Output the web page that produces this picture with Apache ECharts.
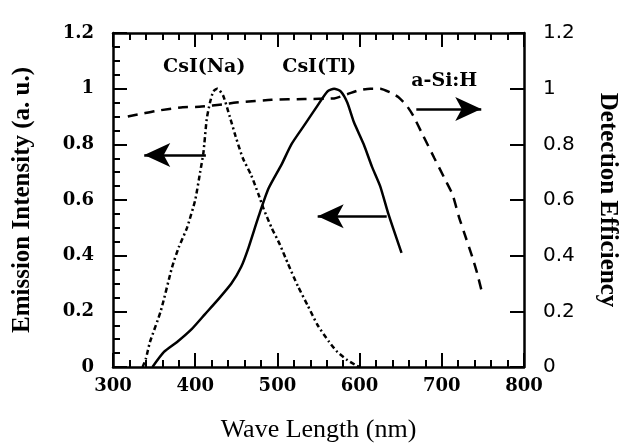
<!DOCTYPE html>
<html>
<head>
<meta charset="utf-8">
<script src="https://cdn.jsdelivr.net/npm/echarts@6/dist/echarts.min.js"></script>
<style>
  html, body { margin: 0; padding: 0; background: #fff; overflow: hidden; }
  #chart { width: 628px; height: 448px; }
</style>
</head>
<body>
<div id="chart"></div>
<script>
// tick values
const waveTicks = [300, 400, 500, 600, 700, 800];
const valueTicks = [0, 0.2, 0.4, 0.6, 0.8, 1, 1.2];

// CsI(Na) emission (dash-dot)
const naWave = [336, 340, 345, 358, 372, 380, 390, 400, 406, 410, 414, 418, 422, 427, 434, 442, 449, 458, 468, 477, 483, 493, 503, 513, 525, 537, 549, 563, 573, 585, 595, 600];
const naEmission = [0, 0.03, 0.09, 0.2, 0.36, 0.43, 0.5, 0.6, 0.7, 0.77, 0.89, 0.95, 0.99, 1.0, 0.975, 0.9, 0.83, 0.75, 0.69, 0.62, 0.57, 0.5, 0.44, 0.37, 0.29, 0.22, 0.15, 0.09, 0.054, 0.025, 0.007, 0];

// CsI(Tl) emission (solid)
const tlWave = [348, 362, 378, 396, 412, 428, 444, 456, 465, 477, 489, 505, 517, 533, 549, 561, 569, 577, 585, 593, 605, 615, 625, 635, 651];
const tlEmission = [0, 0.054, 0.09, 0.137, 0.19, 0.243, 0.3, 0.36, 0.43, 0.54, 0.64, 0.727, 0.8, 0.87, 0.94, 0.99, 1.0, 0.99, 0.95, 0.88, 0.8, 0.72, 0.65, 0.55, 0.41];

// a-Si:H detection efficiency (dashed)
const siWave = [318, 335, 352, 385, 405, 437, 453, 493, 533, 569, 585, 600, 613, 625, 637, 647, 657, 665, 677, 691, 705, 713, 721, 729, 737, 743, 750];
const siEfficiency = [0.9, 0.91, 0.92, 0.933, 0.935, 0.945, 0.951, 0.96, 0.963, 0.965, 0.98, 0.995, 1.0, 1.0, 0.987, 0.97, 0.94, 0.904, 0.833, 0.75, 0.668, 0.62, 0.538, 0.467, 0.396, 0.337, 0.255];

// arrows [from, to] and curve labels, in data units
const naArrow = [[413, 0.762], [338, 0.762]];
const tlArrow = [[633, 0.542], [549, 0.542]];
const siArrow = [[669, 0.927], [748, 0.927]];
const naLabel = [411, 1.076];
const tlLabel = [551, 1.076];
const siLabel = [703, 1.028];

const zip = (xs, ys) => xs.map((x, i) => [x, ys[i]]);

const chart = echarts.init(document.getElementById('chart'));

const arrowMark = (pts) => ({
  silent: true,
  symbol: ['none', 'arrow'],
  symbolSize: [18, 26],
  label: { show: false },
  lineStyle: { color: '#000', width: 2.5, type: 'solid' },
  data: [[{ coord: pts[0] }, { coord: pts[1] }]]
});

const textMark = (text, pos) => ({
  silent: true,
  symbol: 'circle',
  symbolSize: 0,
  label: {
    show: true,
    position: 'inside',
    formatter: text,
    color: '#000',
    fontFamily: 'DejaVu Serif',
    fontWeight: 'bold',
    fontSize: 19
  },
  data: [{ coord: pos }]
});

const xBase = {
  type: 'value',
  min: waveTicks[0],
  max: waveTicks[waveTicks.length - 1],
  interval: waveTicks[1] - waveTicks[0],
  splitLine: { show: false },
  axisLine: { show: true, onZero: false, lineStyle: { color: '#000', width: 2.5 } },
  axisTick: { show: true, inside: true, length: 14, lineStyle: { color: '#000', width: 2 } },
  minorTick: { show: true, splitNumber: 5, length: 7, lineStyle: { color: '#000', width: 2 } }
};

const yBase = {
  type: 'value',
  min: valueTicks[0],
  max: valueTicks[valueTicks.length - 1],
  interval: valueTicks[1] - valueTicks[0],
  splitLine: { show: false },
  axisLine: { show: true, onZero: false, lineStyle: { color: '#000', width: 2.5 } },
  axisTick: { show: true, inside: true, length: 14, lineStyle: { color: '#000', width: 2 } }
};

const option = {
  animation: false,
  backgroundColor: '#fff',
  grid: { left: 113, right: 99, top: 33, bottom: 76, containLabel: false },
  xAxis: [
    Object.assign({}, xBase, {
      position: 'bottom',
      name: 'Wave Length (nm)',
      nameLocation: 'middle',
      nameGap: 50,
      nameTextStyle: { fontFamily: 'Liberation Serif', fontSize: 26, color: '#000' },
      axisLabel: { margin: 10, color: '#000', fontFamily: 'DejaVu Serif', fontWeight: 'bold', fontSize: 18 }
    }),
    Object.assign({}, xBase, {
      position: 'top',
      axisLabel: { show: false }
    })
  ],
  yAxis: [
    Object.assign({}, yBase, {
      position: 'left',
      name: 'Emission Intensity (a. u.)',
      nameLocation: 'middle',
      nameRotate: 90,
      nameGap: 78,
      nameTextStyle: { fontFamily: 'Liberation Serif', fontWeight: 'bold', fontSize: 25, color: '#000' },
      minorTick: { show: true, splitNumber: 4, length: 7, lineStyle: { color: '#000', width: 2 } },
      axisLabel: { margin: 19, color: '#000', fontFamily: 'DejaVu Serif', fontWeight: 'bold', fontSize: 18 }
    }),
    Object.assign({}, yBase, {
      position: 'right',
      name: 'Detection Efficiency',
      nameLocation: 'middle',
      nameRotate: -90,
      nameGap: 71,
      nameTextStyle: { fontFamily: 'Liberation Serif', fontWeight: 'bold', fontSize: 25, color: '#000' },
      axisLabel: { margin: 19, color: '#000', fontFamily: 'DejaVu Sans', fontSize: 20 }
    })
  ],
  series: [
    {
      name: 'CsI(Na)',
      type: 'line',
      xAxisIndex: 0,
      yAxisIndex: 0,
      showSymbol: false,
      smooth: 0.2,
      lineStyle: { color: '#000', width: 2.5, type: [5, 3, 2, 3] },
      data: zip(naWave, naEmission),
      markLine: arrowMark(naArrow),
      markPoint: textMark('CsI(Na)', naLabel)
    },
    {
      name: 'CsI(Tl)',
      type: 'line',
      xAxisIndex: 0,
      yAxisIndex: 0,
      showSymbol: false,
      smooth: 0.2,
      lineStyle: { color: '#000', width: 2.5 },
      data: zip(tlWave, tlEmission),
      markLine: arrowMark(tlArrow),
      markPoint: textMark('CsI(Tl)', tlLabel)
    },
    {
      name: 'a-Si:H',
      type: 'line',
      xAxisIndex: 0,
      yAxisIndex: 1,
      showSymbol: false,
      smooth: 0.2,
      lineStyle: { color: '#000', width: 2.5, type: [10, 7] },
      data: zip(siWave, siEfficiency),
      markLine: arrowMark(siArrow),
      markPoint: textMark('a-Si:H', siLabel)
    }
  ]
};

chart.setOption(option);
</script>
</body>
</html>
